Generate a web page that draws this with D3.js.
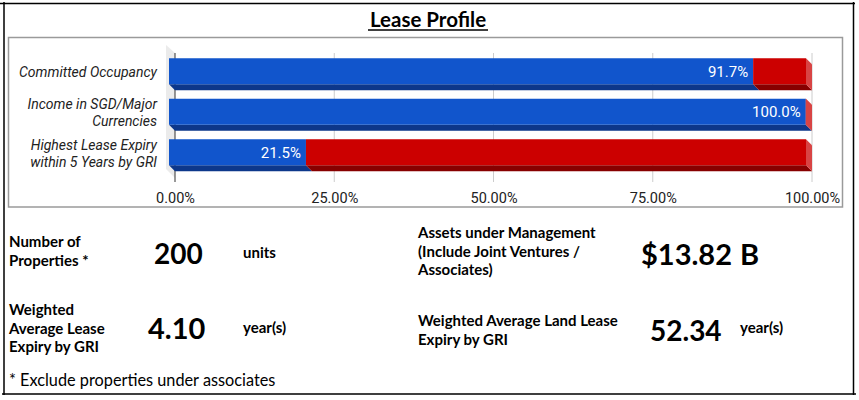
<!DOCTYPE html>
<html>
<head>
<meta charset="utf-8">
<script src="https://cdn.jsdelivr.net/npm/d3@7"></script>
<style>
  body { margin: 0; background: #fff; }
  svg { display: block; }
  .ylab { font: italic 14px Roboto, sans-serif; fill: #222; }
  .xtick text { font: 14.5px Roboto, sans-serif; fill: #222; }
  .val { font: 15px Roboto, sans-serif; fill: #fff; }
  .cal { font-family: Lato, "Open Sans", sans-serif; fill: #000; }
</style>
</head>
<body>
<div id="chart"></div>
<script>
// chart data
const categories = ["Committed Occupancy", "Income in SGD/Major Currencies", "Highest Lease Expiry within 5 Years by GRI"];
const categoryLines = [["Committed Occupancy"], ["Income in SGD/Major", "Currencies"], ["Highest Lease Expiry", "within 5 Years by GRI"]];
const blueValues = [91.7, 99.96, 21.5];
const redValues = [8.3, 0.04, 78.5];
const xTicks = [0, 25, 50, 75, 100];

// summary figures
const leftLabels = [["Number of", "Properties *"], ["Weighted", "Average Lease", "Expiry by GRI"]];
const leftValues = ["200", "4.10"];
const leftUnits = ["units", "year(s)"];
const rightLabels = [["Assets under Management", "(Include Joint Ventures /", "Associates)"], ["Weighted Average Land Lease", "Expiry by GRI"]];
const rightValues = ["$13.82", "52.34"];
const rightUnits = ["B", "year(s)"];
const footnote = "* Exclude properties under associates";

const W = 859, H = 400;
const svg = d3.select("#chart").append("svg").attr("width", W).attr("height", H);

// outer frame
svg.append("path").attr("fill", "none").attr("stroke", "#000").attr("stroke-width", 1.5)
  .attr("d", "M0,3.5H855M4,2V395M853.5,2V395M2,394H856");

// title
svg.append("text").attr("class", "cal").attr("x", 428).attr("y", 27)
  .attr("text-anchor", "middle").style("font-size", "20.5px").style("font-weight", 700)
  .text("Lease Profile");
svg.append("line").attr("x1", 368).attr("x2", 488).attr("y1", 30).attr("y2", 30)
  .attr("stroke", "#000").attr("stroke-width", 1.5);

// chart box
svg.append("rect").attr("x", 8.5).attr("y", 37.5).attr("width", 834).attr("height", 169.5)
  .attr("fill", "#fff").attr("stroke", "#9a9a9a").attr("stroke-width", 1.5);

const x = d3.scaleLinear().domain([0, 100]).range([175, 812]);
const y = d3.scaleBand().domain(categories).range([51, 172.5]).paddingInner(0.358).paddingOuter(0.179);
const d = 6; // 3D depth
const bh = y.bandwidth();

// left wall
svg.append("polygon").attr("fill", "#ebebeb")
  .attr("points", [[x(0) - 9, 45], [x(0), 53], [x(0), 178], [x(0) - 9, 169]].join(" "));

// gridlines
svg.append("g").selectAll("line").data(xTicks).join("line")
  .attr("x1", (v) => x(v)).attr("x2", (v) => x(v))
  .attr("y1", 53).attr("y2", 182)
  .attr("stroke", (v) => v === 0 ? "#333" : "#ccc").attr("stroke-width", 1);

// bars (stacked, pseudo-3D)
const series = [
  { values: blueValues, front: "#1155cc", bottom: "#0d378a", side: "#3b73d6" },
  { values: redValues, front: "#cc0000", bottom: "#870000", side: "#d84444" },
];
const rows = categories.map((c, i) => {
  let acc = 0;
  return series.map((s) => {
    const seg = { cat: c, i, x0: acc, x1: acc + s.values[i], s };
    acc += s.values[i];
    return seg;
  });
});
const gBars = svg.append("g");
rows.forEach((segs) => {
  const last = segs[segs.length - 1];
  segs.forEach((seg) => {
    const fx0 = x(seg.x0) - d, fx1 = x(seg.x1) - d;
    const yt = y(seg.cat), yb = yt + bh;
    gBars.append("polygon").attr("fill", seg.s.bottom)
      .attr("points", [[fx0, yb], [fx1, yb], [fx1 + d, yb + d], [fx0 + d, yb + d]].join(" "));
    gBars.append("rect").attr("fill", seg.s.front)
      .attr("x", fx0).attr("y", yt).attr("width", Math.max(0, fx1 - fx0)).attr("height", bh);
  });
  const fx1 = x(last.x1) - d, yt = y(last.cat), yb = yt + bh;
  gBars.append("polygon").attr("fill", last.s.side)
    .attr("points", [[fx1, yt], [fx1 + d, yt + d], [fx1 + d, yb + d], [fx1, yb]].join(" "));
});

// value labels
svg.append("g").selectAll("text").data(categories).join("text")
  .attr("class", "val")
  .attr("x", (c, i) => x(blueValues[i]) - d - 5)
  .attr("y", (c) => y(c) + bh / 2)
  .attr("dy", "0.36em").attr("text-anchor", "end")
  .text((c, i) => blueValues[i].toFixed(1) + "%");

// category labels
const yl = svg.append("g");
categories.forEach((c, i) => {
  const lines = categoryLines[i];
  const cy = y(c) + bh / 2 + 1;
  lines.forEach((ln, k) => {
    yl.append("text").attr("class", "ylab").attr("x", 157).attr("text-anchor", "end")
      .attr("y", cy + (k - (lines.length - 1) / 2) * 17).attr("dy", "0.35em").text(ln);
  });
});

// x axis
const ax = svg.append("g").attr("class", "xtick").attr("transform", "translate(0,188)")
  .call(d3.axisBottom(x).tickValues(xTicks).tickSize(0).tickFormat((v) => d3.format(".2f")(v) + "%"));
ax.select(".domain").remove();
ax.selectAll("text").attr("dy", "0.85em");

// summary block
const sum = svg.append("g").attr("class", "cal").style("font-weight", 700);
function labelBlock(lines, x0, y0) {
  lines.forEach((ln, k) => sum.append("text").attr("x", x0).attr("y", y0 + k * 18.5).style("font-size", "15px").text(ln));
}
labelBlock(leftLabels[0], 9, 247);
labelBlock(leftLabels[1], 9, 315);
labelBlock(rightLabels[0], 418, 238);
labelBlock(rightLabels[1], 418, 326);

sum.append("text").attr("x", 154).attr("y", 264).style("font-size", "28px").text(leftValues[0]);
sum.append("text").attr("x", 148).attr("y", 339).style("font-size", "29px").text(leftValues[1]);
sum.append("text").attr("x", 641).attr("y", 265).style("font-size", "29px").text(rightValues[0]);
sum.append("text").attr("x", 740).attr("y", 265).style("font-size", "29px").text(rightUnits[0]);
sum.append("text").attr("x", 650).attr("y", 341).style("font-size", "28px").text(rightValues[1]);

sum.append("text").attr("x", 243).attr("y", 258).style("font-size", "15px").text(leftUnits[0]);
sum.append("text").attr("x", 243).attr("y", 333).style("font-size", "15px").text(leftUnits[1]);
sum.append("text").attr("x", 740).attr("y", 333).style("font-size", "15px").text(rightUnits[1]);

svg.append("text").attr("class", "cal").attr("x", 9).attr("y", 386).style("font-size", "16.3px").text(footnote);
</script>
</body>
</html>
